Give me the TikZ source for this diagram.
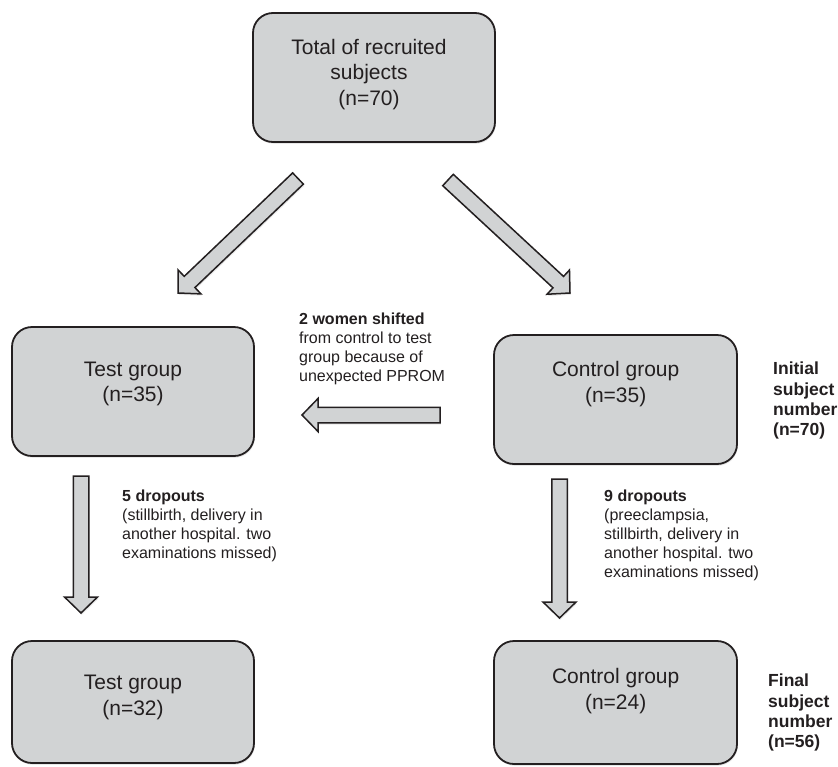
\documentclass[tikz,border=0pt]{standalone}
\usepackage{fontspec}
\setmainfont{Liberation Sans}
\usetikzlibrary{calc,shadows}
\definecolor{boxgray}{RGB}{209,211,212}
\definecolor{ink}{RGB}{35,31,32}
\newcommand{\blockarrow}[2]{%
  \coordinate (bab) at ($(#2)!16pt!(#1)$);
  \draw[blockarr] ($(#1)!7.75pt!90:(#2)$) -- ($(bab)!7.75pt!90:(#2)$) -- ($(bab)!16.5pt!90:(#2)$) -- (#2) -- ($(bab)!16.5pt!-90:(#2)$) -- ($(bab)!7.75pt!-90:(#2)$) -- ($(#1)!7.75pt!-90:(#2)$) -- cycle;}
\begin{document}
\begin{tikzpicture}[x=1pt,y=-1pt,
  softshadow/.style={drop shadow={opacity=0.18, shadow xshift=0.8pt, shadow yshift=-1.8pt}},
  groupbox/.style={draw=ink, line width=1.8pt, fill=boxgray, rounded corners=20pt, inner sep=0pt, softshadow},
  blockarr/.style={draw=ink, line width=1.5pt, fill=boxgray, line join=miter, softshadow},
  boxtext/.style={font=\fontsize{21}{25.5}\selectfont, align=center, inner sep=0pt, text=ink},
  note/.style={font=\fontsize{16}{18.8}\selectfont, align=left, inner sep=0pt, text=ink, anchor=north west},
  sidelabel/.style={font=\bfseries\fontsize{17.5}{20.3}\selectfont, align=left, inner sep=0pt, text=ink, anchor=north west}]
\useasboundingbox (0,0) rectangle (838,766);

% boxes
\node[groupbox, minimum width=242pt, minimum height=129pt] (top) at (374,77.5) {};
\node[groupbox, minimum width=242pt, minimum height=129pt] (test1) at (133,391.5) {};
\node[groupbox, minimum width=243pt, minimum height=129pt] (ctrl1) at (615.5,399.5) {};
\node[groupbox, minimum width=242pt, minimum height=122pt] (test2) at (133,702) {};
\node[groupbox, minimum width=243pt, minimum height=123pt] (ctrl2) at (615.5,702.5) {};

% box texts
\node[boxtext] (ttop) at (369,74.5) {Total of recruited\\subjects\\(n=70)};
\node[boxtext] (ttest1) at (133,384) {Test group\\(n=35)};
\node[boxtext] (tctrl1) at (615.7,384) {Control group\\(n=35)};
\node[boxtext] (ttest2) at (133,697.5) {Test group\\(n=32)};
\node[boxtext] (tctrl2) at (615.7,691) {Control group\\(n=24)};

% arrows
\coordinate (a1s) at (298,178.5); \coordinate (a1e) at (178,293);
\coordinate (a2s) at (448,180);   \coordinate (a2e) at (570,293);
\coordinate (a3s) at (440,415);   \coordinate (a3e) at (302,415);
\coordinate (a4s) at (81,476);    \coordinate (a4e) at (81,613);
\coordinate (a5s) at (559.5,479); \coordinate (a5e) at (559.5,618);
\blockarrow{a1s}{a1e}
\blockarrow{a2s}{a2e}
\blockarrow{a3s}{a3e}
\blockarrow{a4s}{a4e}
\blockarrow{a5s}{a5e}

% annotations
\node[note] (shift) at (299,313) {\textbf{2 women shifted}\\from control to test\\group because of\\unexpected PPROM};
\node[note] (drop5) at (122,490) {\textbf{5 dropouts}\\(stillbirth, delivery in\\another hospital. two\\examinations missed)};
\node[note] (drop9) at (604,490) {\textbf{9 dropouts}\\(preeclampsia,\\stillbirth, delivery in\\another hospital. two\\examinations missed)};
\node[sidelabel] (init) at (773,362) {Initial\\subject\\number\\(n=70)};
\node[sidelabel] (final) at (768,674) {Final\\subject\\number\\(n=56)};
\end{tikzpicture}
\end{document}
